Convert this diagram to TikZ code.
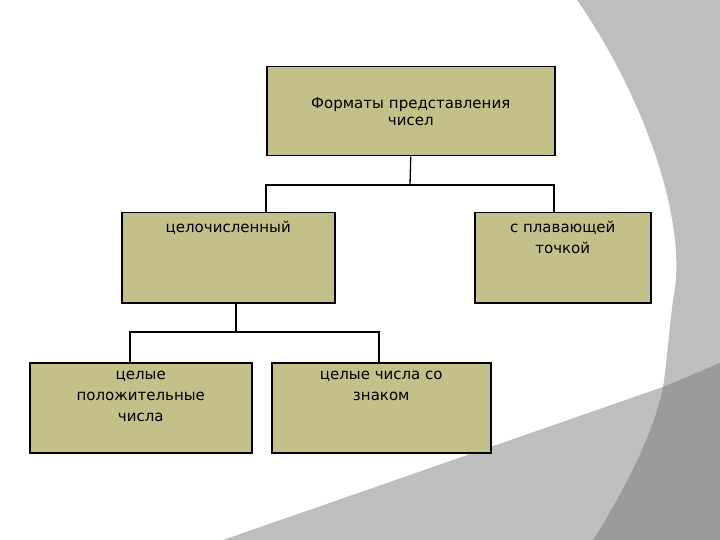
\documentclass[tikz,border=0pt]{standalone}
\usepackage{fontspec}
\setmainfont{DejaVu Sans}
\definecolor{boxfill}{RGB}{196,192,138}
\definecolor{lg}{RGB}{190,190,190}
\definecolor{dg}{RGB}{155,155,155}
\begin{document}
\begin{tikzpicture}[x=1pt,y=-1pt,
  bx/.style={draw=black,line width=1.5pt,fill=boxfill,anchor=north west,inner sep=0pt,
    text width=#1,align=center,font=\fontsize{15}{21}\selectfont},
  ln/.style={draw=black,line width=1.3pt}]
\useasboundingbox (0,0) rectangle (720,540);
\fill[white] (0,0) rectangle (720,540);
\fill[lg] (577,0) .. controls (640,90) and (690,220) .. (673,300) .. controls (668,340) and (666,370) .. (663,387) -- (223,540) -- (720,540) -- (720,0) -- cycle;
\fill[dg] (663,387) -- (720,363) -- (720,540) -- (593,540) .. controls (625,490) and (655,430) .. (663,387) -- cycle;
\node[bx=288pt,minimum height=89pt] (top) at (266,66) {\vspace*{-4pt}Форматы представления\\чисел\par\vspace*{44pt}};
\node[bx=213pt,minimum height=90pt] (int) at (121,212) {};
\node[anchor=north,font=\fontsize{15}{21}\selectfont] at (int.north) [yshift=-6pt] {целочисленный};
\node[bx=176pt,minimum height=90pt] (flt) at (474,212) {};
\node[anchor=north,align=center,font=\fontsize{15}{21}\selectfont] at (flt.north) [yshift=-6pt] {с плавающей\\точкой};
\node[bx=222pt,minimum height=90pt] (pos) at (29,362) {};
\node[anchor=north,align=center,font=\fontsize{15}{21}\selectfont] at (pos.north) [yshift=-6pt] {целые\\положительные\\числа};
\node[bx=219pt,minimum height=90pt] (sgn) at (271,362) {};
\node[anchor=north,align=center,font=\fontsize{15}{21}\selectfont] at (sgn.north) [yshift=-6pt] {целые числа со\\знаком};
\coordinate (j1) at (410,185);
\draw[ln] (top.south) -- (j1);
\draw[ln] (266,212) -- (266,185) -- (554,185) -- (554,212);
\coordinate (j2) at (236,332);
\draw[ln] (int.south west) ++(115,0) -- (j2);
\draw[ln] (130,362) -- (130,332) -- (379,332) -- (379,362);
\end{tikzpicture}
\end{document}
